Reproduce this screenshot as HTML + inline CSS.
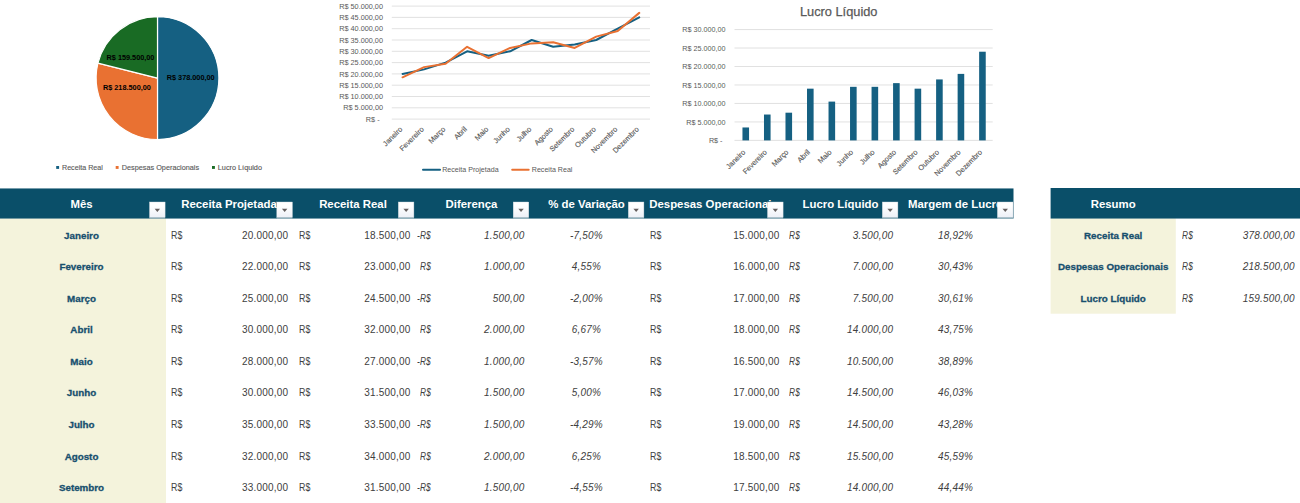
<!DOCTYPE html>
<html><head><meta charset="utf-8"><title>Dashboard</title>
<style>
html,body{margin:0;padding:0;background:#fff;}
body{width:1300px;height:503px;overflow:hidden;position:relative;font-family:"Liberation Sans",sans-serif;}
.abs{position:absolute;}
.hdr{position:absolute;background:#0a4f69;}
.ht{position:absolute;color:#fff;font-weight:bold;font-size:11.4px;line-height:14px;white-space:nowrap;text-align:center;overflow:hidden;}
.btn{position:absolute;width:15.6px;height:15.3px;background:linear-gradient(#ffffff 20%,#eef0f7);border:0.5px solid #c8cdd2;box-sizing:border-box;box-shadow:0 1px 0 rgba(255,255,255,0.45);}
.btn:after{content:"";position:absolute;left:4px;top:5.7px;border-left:2.8px solid transparent;border-right:2.8px solid transparent;border-top:3.4px solid #5a5555;}
.mon{position:absolute;color:#174f6e;font-weight:bold;font-size:9.8px;line-height:12px;white-space:nowrap;text-align:center;-webkit-text-stroke:0.3px #174f6e;}
.d{position:absolute;color:#404040;font-size:10px;letter-spacing:0.2px;line-height:12px;white-space:nowrap;}
.i{font-style:italic;}
.rs{display:inline-block;transform:scaleX(0.88);transform-origin:0 50%;}
.i .rs{transform:scaleX(0.83);}
.r{text-align:right;}
.c{text-align:center;}
svg text{font-family:"Liberation Sans",sans-serif;}
</style></head><body>

<svg class="abs" style="left:0;top:0" width="1300" height="503" viewBox="0 0 1300 503">
<rect x="0" y="218.25" width="166" height="300" fill="#f4f3dc"/>
<rect x="1050.6" y="218.25" width="125.2" height="95.44999999999997" fill="#f4f3dc"/>
<rect x="-1" y="188.45" width="1014.5" height="30.100000000000023" fill="#0a4f69"/>
<rect x="1050.6" y="188" width="260" height="30.55000000000001" fill="#0a4f69"/>
<path d="M157.5,78.1 L157.50,16.70 A61.4,61.4 0 0 1 157.50,139.50 Z" fill="#156082" stroke="#fff" stroke-width="1.2" stroke-linejoin="round"/>
<path d="M157.5,78.1 L157.50,139.50 A61.4,61.4 0 0 1 97.94,63.20 Z" fill="#e97132" stroke="#fff" stroke-width="1.2" stroke-linejoin="round"/>
<path d="M157.5,78.1 L97.94,63.20 A61.4,61.4 0 0 1 157.50,16.70 Z" fill="#196b24" stroke="#fff" stroke-width="1.2" stroke-linejoin="round"/>
<text x="190.7" y="80.4" font-size="7.3" font-weight="bold" fill="#000" text-anchor="middle">R$ 378.000,00</text>
<text x="126.9" y="90.3" font-size="7.3" font-weight="bold" fill="#000" text-anchor="middle">R$ 218.500,00</text>
<text x="130.5" y="60.1" font-size="7.3" font-weight="bold" fill="#000" text-anchor="middle">R$ 159.500,00</text>
<rect x="56.2" y="166" width="2.9" height="2.9" fill="#156082"/>
<text x="62" y="169.9" font-size="7.1" fill="#595959" stroke="#595959" stroke-width="0.12" textLength="40.8" lengthAdjust="spacingAndGlyphs">Receita Real</text>
<rect x="115.7" y="166" width="2.9" height="2.9" fill="#e97132"/>
<text x="121.8" y="169.9" font-size="7.1" fill="#595959" stroke="#595959" stroke-width="0.12" textLength="77.3" lengthAdjust="spacingAndGlyphs">Despesas Operacionais</text>
<rect x="212" y="166" width="2.9" height="2.9" fill="#196b24"/>
<text x="217.8" y="169.9" font-size="7.1" fill="#595959" stroke="#595959" stroke-width="0.12" textLength="44.2" lengthAdjust="spacingAndGlyphs">Lucro Líquido</text>
<line x1="391.8" y1="119.10" x2="650" y2="119.10" stroke="#d9d9d9" stroke-width="0.8"/>
<text x="379.6" y="121.70" font-size="7.3" fill="#595959" text-anchor="end">R$ -</text>
<line x1="391.8" y1="107.80" x2="650" y2="107.80" stroke="#d9d9d9" stroke-width="0.8"/>
<text x="383" y="110.40" font-size="7.3" fill="#595959" text-anchor="end">R$ 5.000,00</text>
<line x1="391.8" y1="96.50" x2="650" y2="96.50" stroke="#d9d9d9" stroke-width="0.8"/>
<text x="383" y="99.10" font-size="7.3" fill="#595959" text-anchor="end">R$ 10.000,00</text>
<line x1="391.8" y1="85.20" x2="650" y2="85.20" stroke="#d9d9d9" stroke-width="0.8"/>
<text x="383" y="87.80" font-size="7.3" fill="#595959" text-anchor="end">R$ 15.000,00</text>
<line x1="391.8" y1="73.90" x2="650" y2="73.90" stroke="#d9d9d9" stroke-width="0.8"/>
<text x="383" y="76.50" font-size="7.3" fill="#595959" text-anchor="end">R$ 20.000,00</text>
<line x1="391.8" y1="62.60" x2="650" y2="62.60" stroke="#d9d9d9" stroke-width="0.8"/>
<text x="383" y="65.20" font-size="7.3" fill="#595959" text-anchor="end">R$ 25.000,00</text>
<line x1="391.8" y1="51.30" x2="650" y2="51.30" stroke="#d9d9d9" stroke-width="0.8"/>
<text x="383" y="53.90" font-size="7.3" fill="#595959" text-anchor="end">R$ 30.000,00</text>
<line x1="391.8" y1="40.00" x2="650" y2="40.00" stroke="#d9d9d9" stroke-width="0.8"/>
<text x="383" y="42.60" font-size="7.3" fill="#595959" text-anchor="end">R$ 35.000,00</text>
<line x1="391.8" y1="28.70" x2="650" y2="28.70" stroke="#d9d9d9" stroke-width="0.8"/>
<text x="383" y="31.30" font-size="7.3" fill="#595959" text-anchor="end">R$ 40.000,00</text>
<line x1="391.8" y1="17.40" x2="650" y2="17.40" stroke="#d9d9d9" stroke-width="0.8"/>
<text x="383" y="20.00" font-size="7.3" fill="#595959" text-anchor="end">R$ 45.000,00</text>
<line x1="391.8" y1="6.10" x2="650" y2="6.10" stroke="#d9d9d9" stroke-width="0.8"/>
<text x="383" y="8.70" font-size="7.3" fill="#595959" text-anchor="end">R$ 50.000,00</text>
<polyline points="402.56,73.90 424.07,69.38 445.59,62.60 467.11,51.30 488.62,55.82 510.14,51.30 531.66,40.00 553.17,46.78 574.69,44.52 596.21,40.00 617.73,28.70 639.24,17.40" fill="none" stroke="#156082" stroke-width="2" stroke-linejoin="round" stroke-linecap="round"/>
<polyline points="402.56,77.29 424.07,67.12 445.59,63.73 467.11,46.78 488.62,58.08 510.14,47.91 531.66,43.39 553.17,42.26 574.69,47.91 596.21,36.61 617.73,30.96 639.24,12.88" fill="none" stroke="#e97132" stroke-width="2" stroke-linejoin="round" stroke-linecap="round"/>
<text transform="translate(402.76,129.7) rotate(-45)" font-size="7.3" fill="#595959" stroke="#595959" stroke-width="0.15" text-anchor="end">Janeiro</text>
<text transform="translate(424.27,129.7) rotate(-45)" font-size="7.3" fill="#595959" stroke="#595959" stroke-width="0.15" text-anchor="end">Fevereiro</text>
<text transform="translate(445.79,129.7) rotate(-45)" font-size="7.3" fill="#595959" stroke="#595959" stroke-width="0.15" text-anchor="end">Março</text>
<text transform="translate(467.31,129.7) rotate(-45)" font-size="7.3" fill="#595959" stroke="#595959" stroke-width="0.15" text-anchor="end">Abril</text>
<text transform="translate(488.82,129.7) rotate(-45)" font-size="7.3" fill="#595959" stroke="#595959" stroke-width="0.15" text-anchor="end">Maio</text>
<text transform="translate(510.34,129.7) rotate(-45)" font-size="7.3" fill="#595959" stroke="#595959" stroke-width="0.15" text-anchor="end">Junho</text>
<text transform="translate(531.86,129.7) rotate(-45)" font-size="7.3" fill="#595959" stroke="#595959" stroke-width="0.15" text-anchor="end">Julho</text>
<text transform="translate(553.38,129.7) rotate(-45)" font-size="7.3" fill="#595959" stroke="#595959" stroke-width="0.15" text-anchor="end">Agosto</text>
<text transform="translate(574.89,129.7) rotate(-45)" font-size="7.3" fill="#595959" stroke="#595959" stroke-width="0.15" text-anchor="end">Setembro</text>
<text transform="translate(596.41,129.7) rotate(-45)" font-size="7.3" fill="#595959" stroke="#595959" stroke-width="0.15" text-anchor="end">Outubro</text>
<text transform="translate(617.93,129.7) rotate(-45)" font-size="7.3" fill="#595959" stroke="#595959" stroke-width="0.15" text-anchor="end">Novembro</text>
<text transform="translate(639.44,129.7) rotate(-45)" font-size="7.3" fill="#595959" stroke="#595959" stroke-width="0.15" text-anchor="end">Dezembro</text>
<line x1="423" y1="169.7" x2="440" y2="169.7" stroke="#156082" stroke-width="2" stroke-linecap="round"/>
<text x="442.2" y="172.2" font-size="7.1" fill="#595959">Receita Projetada</text>
<line x1="512.2" y1="169.7" x2="528.7" y2="169.7" stroke="#e97132" stroke-width="2" stroke-linecap="round"/>
<text x="531.8" y="172.2" font-size="7.1" fill="#595959">Receita Real</text>
<line x1="734.5" y1="140.40" x2="992.7" y2="140.40" stroke="#d9d9d9" stroke-width="0.8"/>
<text x="722.5" y="143.00" font-size="7.2" fill="#595959" text-anchor="end">R$ -</text>
<line x1="734.5" y1="121.93" x2="992.7" y2="121.93" stroke="#d9d9d9" stroke-width="0.8"/>
<text x="725.5" y="124.53" font-size="7.2" fill="#595959" text-anchor="end">R$ 5.000,00</text>
<line x1="734.5" y1="103.45" x2="992.7" y2="103.45" stroke="#d9d9d9" stroke-width="0.8"/>
<text x="725.5" y="106.05" font-size="7.2" fill="#595959" text-anchor="end">R$ 10.000,00</text>
<line x1="734.5" y1="84.97" x2="992.7" y2="84.97" stroke="#d9d9d9" stroke-width="0.8"/>
<text x="725.5" y="87.57" font-size="7.2" fill="#595959" text-anchor="end">R$ 15.000,00</text>
<line x1="734.5" y1="66.50" x2="992.7" y2="66.50" stroke="#d9d9d9" stroke-width="0.8"/>
<text x="725.5" y="69.10" font-size="7.2" fill="#595959" text-anchor="end">R$ 20.000,00</text>
<line x1="734.5" y1="48.03" x2="992.7" y2="48.03" stroke="#d9d9d9" stroke-width="0.8"/>
<text x="725.5" y="50.63" font-size="7.2" fill="#595959" text-anchor="end">R$ 25.000,00</text>
<line x1="734.5" y1="29.55" x2="992.7" y2="29.55" stroke="#d9d9d9" stroke-width="0.8"/>
<text x="725.5" y="32.15" font-size="7.2" fill="#595959" text-anchor="end">R$ 30.000,00</text>
<rect x="742.46" y="127.47" width="6.6" height="12.93" fill="#156082"/>
<rect x="763.98" y="114.53" width="6.6" height="25.87" fill="#156082"/>
<rect x="785.49" y="112.69" width="6.6" height="27.71" fill="#156082"/>
<rect x="807.01" y="88.67" width="6.6" height="51.73" fill="#156082"/>
<rect x="828.53" y="101.60" width="6.6" height="38.80" fill="#156082"/>
<rect x="850.04" y="86.82" width="6.6" height="53.58" fill="#156082"/>
<rect x="871.56" y="86.82" width="6.6" height="53.58" fill="#156082"/>
<rect x="893.08" y="83.13" width="6.6" height="57.27" fill="#156082"/>
<rect x="914.59" y="88.67" width="6.6" height="51.73" fill="#156082"/>
<rect x="936.11" y="79.43" width="6.6" height="60.97" fill="#156082"/>
<rect x="957.63" y="73.89" width="6.6" height="66.51" fill="#156082"/>
<rect x="979.14" y="51.72" width="6.6" height="88.68" fill="#156082"/>
<text transform="translate(745.96,152.6) rotate(-45)" font-size="7.3" fill="#595959" stroke="#595959" stroke-width="0.15" text-anchor="end">Janeiro</text>
<text transform="translate(767.48,152.6) rotate(-45)" font-size="7.3" fill="#595959" stroke="#595959" stroke-width="0.15" text-anchor="end">Fevereiro</text>
<text transform="translate(788.99,152.6) rotate(-45)" font-size="7.3" fill="#595959" stroke="#595959" stroke-width="0.15" text-anchor="end">Março</text>
<text transform="translate(810.51,152.6) rotate(-45)" font-size="7.3" fill="#595959" stroke="#595959" stroke-width="0.15" text-anchor="end">Abril</text>
<text transform="translate(832.03,152.6) rotate(-45)" font-size="7.3" fill="#595959" stroke="#595959" stroke-width="0.15" text-anchor="end">Maio</text>
<text transform="translate(853.54,152.6) rotate(-45)" font-size="7.3" fill="#595959" stroke="#595959" stroke-width="0.15" text-anchor="end">Junho</text>
<text transform="translate(875.06,152.6) rotate(-45)" font-size="7.3" fill="#595959" stroke="#595959" stroke-width="0.15" text-anchor="end">Julho</text>
<text transform="translate(896.58,152.6) rotate(-45)" font-size="7.3" fill="#595959" stroke="#595959" stroke-width="0.15" text-anchor="end">Agosto</text>
<text transform="translate(918.09,152.6) rotate(-45)" font-size="7.3" fill="#595959" stroke="#595959" stroke-width="0.15" text-anchor="end">Setembro</text>
<text transform="translate(939.61,152.6) rotate(-45)" font-size="7.3" fill="#595959" stroke="#595959" stroke-width="0.15" text-anchor="end">Outubro</text>
<text transform="translate(961.13,152.6) rotate(-45)" font-size="7.3" fill="#595959" stroke="#595959" stroke-width="0.15" text-anchor="end">Novembro</text>
<text transform="translate(982.64,152.6) rotate(-45)" font-size="7.3" fill="#595959" stroke="#595959" stroke-width="0.15" text-anchor="end">Dezembro</text>
<text x="838.7" y="15.9" font-size="12.8" fill="#595959" text-anchor="middle" stroke="#595959" stroke-width="0.25">Lucro Líquido</text>
</svg>
<div class="abs" style="left:0px;top:197px;width:166px;height:14px;overflow:hidden"><div class="ht" style="left:-1.5px;top:0;width:166px;overflow:visible;display:flex;justify-content:center"><span style="flex:none">Mês</span></div></div>
<div class="abs" style="left:166px;top:197px;width:126px;height:14px;overflow:hidden"><div class="ht" style="left:0px;top:0;width:126px;overflow:visible;display:flex;justify-content:center"><span style="flex:none">Receita Projetada</span></div></div>
<div class="abs" style="left:292px;top:197px;width:122px;height:14px;overflow:hidden"><div class="ht" style="left:0px;top:0;width:122px;overflow:visible;display:flex;justify-content:center"><span style="flex:none">Receita Real</span></div></div>
<div class="abs" style="left:414px;top:197px;width:115px;height:14px;overflow:hidden"><div class="ht" style="left:0px;top:0;width:115px;overflow:visible;display:flex;justify-content:center"><span style="flex:none">Diferença</span></div></div>
<div class="abs" style="left:529px;top:197px;width:115px;height:14px;overflow:hidden"><div class="ht" style="left:0px;top:0;width:115px;overflow:visible;display:flex;justify-content:center"><span style="flex:none">% de Variação</span></div></div>
<div class="abs" style="left:644px;top:197px;width:139px;height:14px;overflow:hidden"><div class="ht" style="left:0px;top:0;width:139px;overflow:visible;display:flex;justify-content:center"><span style="flex:none">Despesas Operacionais</span></div></div>
<div class="abs" style="left:783px;top:197px;width:115px;height:14px;overflow:hidden"><div class="ht" style="left:0px;top:0;width:115px;overflow:visible;display:flex;justify-content:center"><span style="flex:none">Lucro Líquido</span></div></div>
<div class="abs" style="left:898px;top:197px;width:115px;height:14px;overflow:hidden"><div class="ht" style="left:0px;top:0;width:115px;overflow:visible;display:flex;justify-content:center"><span style="flex:none">Margem de Lucro</span></div></div>
<div class="ht" style="left:1050.6px;top:197px;width:125.2px">Resumo</div>
<svg class="abs" style="left:0;top:195px" width="1020" height="30" viewBox="0 195 1020 30">
<defs><linearGradient id="bg" x1="0" y1="0" x2="0" y2="1"><stop offset="0.25" stop-color="#ffffff"/><stop offset="1" stop-color="#edf0f7"/></linearGradient></defs>
<rect x="149.50" y="217.3" width="15.6" height="1.2" fill="#ffffff" fill-opacity="0.45"/>
<rect x="149.50" y="202.0" width="15.6" height="15.4" fill="url(#bg)" stroke="#cfd6dc" stroke-width="0.4"/>
<path d="M154.65,208.7 L160.05,208.7 L157.35,212.1 Z" fill="#645e5e"/>
<rect x="276.80" y="217.3" width="15.6" height="1.2" fill="#ffffff" fill-opacity="0.45"/>
<rect x="276.80" y="202.0" width="15.6" height="15.4" fill="url(#bg)" stroke="#cfd6dc" stroke-width="0.4"/>
<path d="M281.95,208.7 L287.35,208.7 L284.65,212.1 Z" fill="#645e5e"/>
<rect x="398.30" y="217.3" width="15.6" height="1.2" fill="#ffffff" fill-opacity="0.45"/>
<rect x="398.30" y="202.0" width="15.6" height="15.4" fill="url(#bg)" stroke="#cfd6dc" stroke-width="0.4"/>
<path d="M403.45,208.7 L408.85,208.7 L406.15,212.1 Z" fill="#645e5e"/>
<rect x="513.20" y="217.3" width="15.6" height="1.2" fill="#ffffff" fill-opacity="0.45"/>
<rect x="513.20" y="202.0" width="15.6" height="15.4" fill="url(#bg)" stroke="#cfd6dc" stroke-width="0.4"/>
<path d="M518.35,208.7 L523.75,208.7 L521.05,212.1 Z" fill="#645e5e"/>
<rect x="628.30" y="217.3" width="15.6" height="1.2" fill="#ffffff" fill-opacity="0.45"/>
<rect x="628.30" y="202.0" width="15.6" height="15.4" fill="url(#bg)" stroke="#cfd6dc" stroke-width="0.4"/>
<path d="M633.45,208.7 L638.85,208.7 L636.15,212.1 Z" fill="#645e5e"/>
<rect x="767.50" y="217.3" width="15.6" height="1.2" fill="#ffffff" fill-opacity="0.45"/>
<rect x="767.50" y="202.0" width="15.6" height="15.4" fill="url(#bg)" stroke="#cfd6dc" stroke-width="0.4"/>
<path d="M772.65,208.7 L778.05,208.7 L775.35,212.1 Z" fill="#645e5e"/>
<rect x="882.30" y="217.3" width="15.6" height="1.2" fill="#ffffff" fill-opacity="0.45"/>
<rect x="882.30" y="202.0" width="15.6" height="15.4" fill="url(#bg)" stroke="#cfd6dc" stroke-width="0.4"/>
<path d="M887.45,208.7 L892.85,208.7 L890.15,212.1 Z" fill="#645e5e"/>
<rect x="997.40" y="217.3" width="15.6" height="1.2" fill="#ffffff" fill-opacity="0.45"/>
<rect x="997.40" y="202.0" width="15.6" height="15.4" fill="url(#bg)" stroke="#cfd6dc" stroke-width="0.4"/>
<path d="M1002.55,208.7 L1007.95,208.7 L1005.25,212.1 Z" fill="#645e5e"/>
</svg>
<div class="mon" style="left:0;top:229.85px;width:163px">Janeiro</div>
<div class="d" style="left:171.4px;top:229.85px"><span class="rs">R$</span></div>
<div class="d r" style="left:188px;width:100.2px;top:229.85px">20.000,00</div>
<div class="d" style="left:298.5px;top:229.85px"><span class="rs">R$</span></div>
<div class="d r" style="left:310px;width:100.5px;top:229.85px">18.500,00</div>
<div class="d i" style="left:417.2px;top:229.85px"><span class="rs">-R$</span></div>
<div class="d i r" style="left:440px;width:84.6px;top:229.85px">1.500,00</div>
<div class="d i c" style="left:529px;width:115px;top:229.85px">-7,50%</div>
<div class="d" style="left:649.7px;top:229.85px"><span class="rs">R$</span></div>
<div class="d r" style="left:680px;width:99.6px;top:229.85px">15.000,00</div>
<div class="d i" style="left:789.3px;top:229.85px"><span class="rs">R$</span></div>
<div class="d i r" style="left:800px;width:93.2px;top:229.85px">3.500,00</div>
<div class="d i c" style="left:898px;width:115px;top:229.85px">18,92%</div>
<div class="mon" style="left:0;top:261.38px;width:163px">Fevereiro</div>
<div class="d" style="left:171.4px;top:261.38px"><span class="rs">R$</span></div>
<div class="d r" style="left:188px;width:100.2px;top:261.38px">22.000,00</div>
<div class="d" style="left:298.5px;top:261.38px"><span class="rs">R$</span></div>
<div class="d r" style="left:310px;width:100.5px;top:261.38px">23.000,00</div>
<div class="d i" style="left:419.8px;top:261.38px"><span class="rs">R$</span></div>
<div class="d i r" style="left:440px;width:84.6px;top:261.38px">1.000,00</div>
<div class="d i c" style="left:529px;width:115px;top:261.38px">4,55%</div>
<div class="d" style="left:649.7px;top:261.38px"><span class="rs">R$</span></div>
<div class="d r" style="left:680px;width:99.6px;top:261.38px">16.000,00</div>
<div class="d i" style="left:789.3px;top:261.38px"><span class="rs">R$</span></div>
<div class="d i r" style="left:800px;width:93.2px;top:261.38px">7.000,00</div>
<div class="d i c" style="left:898px;width:115px;top:261.38px">30,43%</div>
<div class="mon" style="left:0;top:292.90px;width:163px">Março</div>
<div class="d" style="left:171.4px;top:292.90px"><span class="rs">R$</span></div>
<div class="d r" style="left:188px;width:100.2px;top:292.90px">25.000,00</div>
<div class="d" style="left:298.5px;top:292.90px"><span class="rs">R$</span></div>
<div class="d r" style="left:310px;width:100.5px;top:292.90px">24.500,00</div>
<div class="d i" style="left:417.2px;top:292.90px"><span class="rs">-R$</span></div>
<div class="d i r" style="left:440px;width:84.6px;top:292.90px">500,00</div>
<div class="d i c" style="left:529px;width:115px;top:292.90px">-2,00%</div>
<div class="d" style="left:649.7px;top:292.90px"><span class="rs">R$</span></div>
<div class="d r" style="left:680px;width:99.6px;top:292.90px">17.000,00</div>
<div class="d i" style="left:789.3px;top:292.90px"><span class="rs">R$</span></div>
<div class="d i r" style="left:800px;width:93.2px;top:292.90px">7.500,00</div>
<div class="d i c" style="left:898px;width:115px;top:292.90px">30,61%</div>
<div class="mon" style="left:0;top:324.43px;width:163px">Abril</div>
<div class="d" style="left:171.4px;top:324.43px"><span class="rs">R$</span></div>
<div class="d r" style="left:188px;width:100.2px;top:324.43px">30.000,00</div>
<div class="d" style="left:298.5px;top:324.43px"><span class="rs">R$</span></div>
<div class="d r" style="left:310px;width:100.5px;top:324.43px">32.000,00</div>
<div class="d i" style="left:419.8px;top:324.43px"><span class="rs">R$</span></div>
<div class="d i r" style="left:440px;width:84.6px;top:324.43px">2.000,00</div>
<div class="d i c" style="left:529px;width:115px;top:324.43px">6,67%</div>
<div class="d" style="left:649.7px;top:324.43px"><span class="rs">R$</span></div>
<div class="d r" style="left:680px;width:99.6px;top:324.43px">18.000,00</div>
<div class="d i" style="left:789.3px;top:324.43px"><span class="rs">R$</span></div>
<div class="d i r" style="left:800px;width:93.2px;top:324.43px">14.000,00</div>
<div class="d i c" style="left:898px;width:115px;top:324.43px">43,75%</div>
<div class="mon" style="left:0;top:355.95px;width:163px">Maio</div>
<div class="d" style="left:171.4px;top:355.95px"><span class="rs">R$</span></div>
<div class="d r" style="left:188px;width:100.2px;top:355.95px">28.000,00</div>
<div class="d" style="left:298.5px;top:355.95px"><span class="rs">R$</span></div>
<div class="d r" style="left:310px;width:100.5px;top:355.95px">27.000,00</div>
<div class="d i" style="left:417.2px;top:355.95px"><span class="rs">-R$</span></div>
<div class="d i r" style="left:440px;width:84.6px;top:355.95px">1.000,00</div>
<div class="d i c" style="left:529px;width:115px;top:355.95px">-3,57%</div>
<div class="d" style="left:649.7px;top:355.95px"><span class="rs">R$</span></div>
<div class="d r" style="left:680px;width:99.6px;top:355.95px">16.500,00</div>
<div class="d i" style="left:789.3px;top:355.95px"><span class="rs">R$</span></div>
<div class="d i r" style="left:800px;width:93.2px;top:355.95px">10.500,00</div>
<div class="d i c" style="left:898px;width:115px;top:355.95px">38,89%</div>
<div class="mon" style="left:0;top:387.48px;width:163px">Junho</div>
<div class="d" style="left:171.4px;top:387.48px"><span class="rs">R$</span></div>
<div class="d r" style="left:188px;width:100.2px;top:387.48px">30.000,00</div>
<div class="d" style="left:298.5px;top:387.48px"><span class="rs">R$</span></div>
<div class="d r" style="left:310px;width:100.5px;top:387.48px">31.500,00</div>
<div class="d i" style="left:419.8px;top:387.48px"><span class="rs">R$</span></div>
<div class="d i r" style="left:440px;width:84.6px;top:387.48px">1.500,00</div>
<div class="d i c" style="left:529px;width:115px;top:387.48px">5,00%</div>
<div class="d" style="left:649.7px;top:387.48px"><span class="rs">R$</span></div>
<div class="d r" style="left:680px;width:99.6px;top:387.48px">17.000,00</div>
<div class="d i" style="left:789.3px;top:387.48px"><span class="rs">R$</span></div>
<div class="d i r" style="left:800px;width:93.2px;top:387.48px">14.500,00</div>
<div class="d i c" style="left:898px;width:115px;top:387.48px">46,03%</div>
<div class="mon" style="left:0;top:419.00px;width:163px">Julho</div>
<div class="d" style="left:171.4px;top:419.00px"><span class="rs">R$</span></div>
<div class="d r" style="left:188px;width:100.2px;top:419.00px">35.000,00</div>
<div class="d" style="left:298.5px;top:419.00px"><span class="rs">R$</span></div>
<div class="d r" style="left:310px;width:100.5px;top:419.00px">33.500,00</div>
<div class="d i" style="left:417.2px;top:419.00px"><span class="rs">-R$</span></div>
<div class="d i r" style="left:440px;width:84.6px;top:419.00px">1.500,00</div>
<div class="d i c" style="left:529px;width:115px;top:419.00px">-4,29%</div>
<div class="d" style="left:649.7px;top:419.00px"><span class="rs">R$</span></div>
<div class="d r" style="left:680px;width:99.6px;top:419.00px">19.000,00</div>
<div class="d i" style="left:789.3px;top:419.00px"><span class="rs">R$</span></div>
<div class="d i r" style="left:800px;width:93.2px;top:419.00px">14.500,00</div>
<div class="d i c" style="left:898px;width:115px;top:419.00px">43,28%</div>
<div class="mon" style="left:0;top:450.53px;width:163px">Agosto</div>
<div class="d" style="left:171.4px;top:450.53px"><span class="rs">R$</span></div>
<div class="d r" style="left:188px;width:100.2px;top:450.53px">32.000,00</div>
<div class="d" style="left:298.5px;top:450.53px"><span class="rs">R$</span></div>
<div class="d r" style="left:310px;width:100.5px;top:450.53px">34.000,00</div>
<div class="d i" style="left:419.8px;top:450.53px"><span class="rs">R$</span></div>
<div class="d i r" style="left:440px;width:84.6px;top:450.53px">2.000,00</div>
<div class="d i c" style="left:529px;width:115px;top:450.53px">6,25%</div>
<div class="d" style="left:649.7px;top:450.53px"><span class="rs">R$</span></div>
<div class="d r" style="left:680px;width:99.6px;top:450.53px">18.500,00</div>
<div class="d i" style="left:789.3px;top:450.53px"><span class="rs">R$</span></div>
<div class="d i r" style="left:800px;width:93.2px;top:450.53px">15.500,00</div>
<div class="d i c" style="left:898px;width:115px;top:450.53px">45,59%</div>
<div class="mon" style="left:0;top:482.05px;width:163px">Setembro</div>
<div class="d" style="left:171.4px;top:482.05px"><span class="rs">R$</span></div>
<div class="d r" style="left:188px;width:100.2px;top:482.05px">33.000,00</div>
<div class="d" style="left:298.5px;top:482.05px"><span class="rs">R$</span></div>
<div class="d r" style="left:310px;width:100.5px;top:482.05px">31.500,00</div>
<div class="d i" style="left:417.2px;top:482.05px"><span class="rs">-R$</span></div>
<div class="d i r" style="left:440px;width:84.6px;top:482.05px">1.500,00</div>
<div class="d i c" style="left:529px;width:115px;top:482.05px">-4,55%</div>
<div class="d" style="left:649.7px;top:482.05px"><span class="rs">R$</span></div>
<div class="d r" style="left:680px;width:99.6px;top:482.05px">17.500,00</div>
<div class="d i" style="left:789.3px;top:482.05px"><span class="rs">R$</span></div>
<div class="d i r" style="left:800px;width:93.2px;top:482.05px">14.000,00</div>
<div class="d i c" style="left:898px;width:115px;top:482.05px">44,44%</div>
<div class="mon" style="left:1050.6px;top:229.85px;width:125.2px">Receita Real</div>
<div class="d i" style="left:1181.5px;top:229.85px"><span class="rs">R$</span></div>
<div class="d i r" style="left:1200px;width:94.8px;top:229.85px">378.000,00</div>
<div class="mon" style="left:1050.6px;top:261.38px;width:125.2px">Despesas Operacionais</div>
<div class="d i" style="left:1181.5px;top:261.38px"><span class="rs">R$</span></div>
<div class="d i r" style="left:1200px;width:94.8px;top:261.38px">218.500,00</div>
<div class="mon" style="left:1050.6px;top:292.90px;width:125.2px">Lucro Líquido</div>
<div class="d i" style="left:1181.5px;top:292.90px"><span class="rs">R$</span></div>
<div class="d i r" style="left:1200px;width:94.8px;top:292.90px">159.500,00</div>
</body></html>
